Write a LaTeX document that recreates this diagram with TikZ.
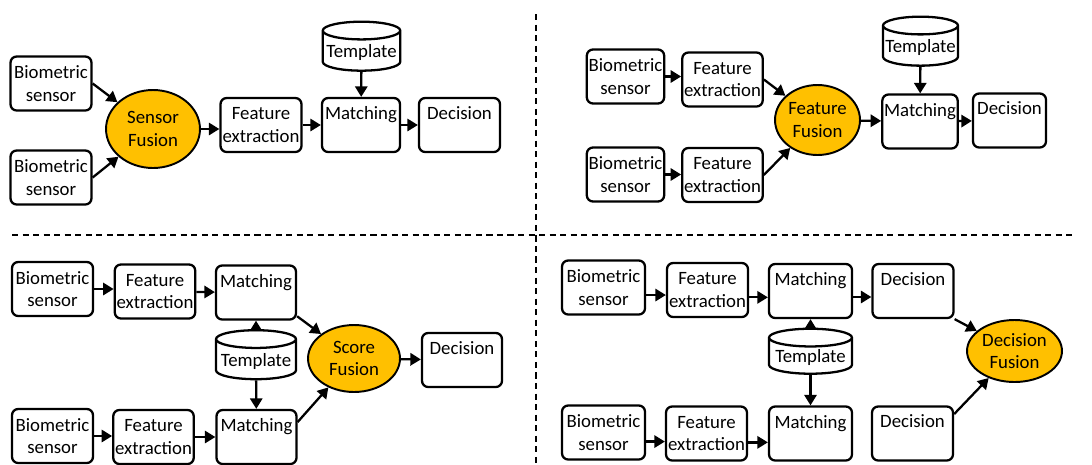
\documentclass[tikz,border=0pt]{standalone}
\usepackage{fontspec}
\setmainfont{Carlito}
\usetikzlibrary{arrows.meta,shapes.geometric}
\definecolor{fusegold}{HTML}{FFC000}
\begin{document}
\begin{tikzpicture}[x=0.02cm,y=-0.02cm,font=\fontsize{10.7}{12.8}\selectfont,
  box/.style={draw,line width=1.3pt,rounded corners=3.5pt,align=center,inner sep=1pt,minimum width=1.62cm,minimum height=1.08cm},
  fusion/.style={ellipse,draw,line width=1.1pt,fill=fusegold,align=center,inner sep=0pt},
  db/.style={cylinder,shape border rotate=90,aspect=0.24,draw,line width=1.3pt,inner sep=1pt,minimum width=1.55cm,minimum height=0.98cm},
  arr/.style={-{Triangle[length=6pt,width=7pt]},line width=1.3pt},
  sep/.style={line width=1pt,dash pattern=on 3.5pt off 2.5pt}]
\useasboundingbox (0,0) rectangle (1092,464);

\draw[sep] (536,14) -- (536,464);
\draw[sep] (12,235) -- (1073,235);

% sensor level
\node[box] (aS1) at (51,83.5) {Biometric\\sensor};
\node[box] (aS2) at (51,177.5) {Biometric\\sensor};
\node[fusion,minimum width=1.88cm,minimum height=1.56cm] (aF) at (153,129) {Sensor\\Fusion};
\node[box] (aFE) at (261,125) {Feature\\extraction};
\node[box,minimum width=1.56cm] (aM) at (361,125) {Matching\\[-3pt]\strut};
\node[db] (aT) at (361.5,52.5) {Template};
\node[box] (aD) at (459.5,125) {Decision\\[-3pt]\strut};
\draw[arr] (aS1.east) -- (aF);
\draw[arr] (aS2.east) -- (aF);
\draw[arr] (aF.east) -- (aF.east -| aFE.west);
\draw[arr] (aFE) -- (aM);
\draw[arr] (aM) -- (aD);
\draw[arr] (aT) -- (aM);

% feature level
\node[box,minimum width=1.5cm] (bS1) at (625.5,76.5) {Biometric\\sensor};
\node[box,minimum width=1.58cm] (bFE1) at (722.5,79.5) {Feature\\extraction};
\node[box,minimum width=1.5cm] (bS2) at (625.5,174.5) {Biometric\\sensor};
\node[box,minimum width=1.58cm] (bFE2) at (722.5,175) {Feature\\extraction};
\node[fusion,minimum width=1.7cm,minimum height=1.4cm] (bF) at (817.5,120) {Feature\\Fusion};
\node[box,minimum width=1.48cm] (bM) at (920,121.5) {Matching\\[-3pt]\strut};
\node[db,minimum width=1.5cm] (bT) at (920.5,47.5) {Template};
\node[box,minimum width=1.46cm] (bD) at (1009.5,120.5) {Decision\\[-3pt]\strut};
\draw[arr] (bS1.east) -- (bS1.east -| bFE1.west);
\draw[arr] (bFE1.east) -- (bF);
\draw[arr] (bS2.east) -- (bS2.east -| bFE2.west);
\draw[arr] (bFE2.east) -- (bF);
\draw[arr] (bF) -- (bM);
\draw[arr] (bM) -- (bD);
\draw[arr] (bT) -- (bM);

% score level
\node[box] (cS1) at (52.5,289) {Biometric\\sensor};
\node[box,minimum width=1.6cm] (cFE1) at (155,291.5) {Feature\\extraction};
\node[box,minimum width=1.6cm] (cM1) at (256,292.5) {Matching\\[-3pt]\strut};
\node[db,minimum width=1.6cm] (cT) at (256,361) {Template};
\node[box] (cS2) at (52.5,436) {Biometric\\sensor};
\node[box,minimum width=1.6cm] (cFE2) at (153.5,437) {Feature\\extraction};
\node[box,minimum width=1.6cm] (cM2) at (256.5,437) {Matching\\[-3pt]\strut};
\node[fusion,minimum width=1.84cm,minimum height=1.34cm] (cF) at (354,358.5) {Score\\Fusion};
\node[box,minimum width=1.6cm] (cD) at (462,360) {Decision\\[-3pt]\strut};
\draw[arr] (cS1.east) -- (cS1.east -| cFE1.west);
\draw[arr] (cFE1) -- (cM1);
\draw[arr] (cT) -- (cM1);
\draw[arr] (cT) -- (cM2);
\draw[arr] (cM1.-30) -- (cF);
\draw[arr] (cM2.20) -- (cF);
\draw[arr] (cF) -- (cD);
\draw[arr] (cS2.east) -- (cS2.east -| cFE2.west);
\draw[arr] (cFE2) -- (cM2);

% decision level
\node[box,minimum width=1.66cm] (dS1) at (603.5,287.5) {Biometric\\sensor};
\node[box] (dFE1) at (707.5,290) {Feature\\extraction};
\node[box,minimum width=1.66cm] (dM1) at (810.5,291) {Matching\\[-3pt]\strut};
\node[box] (dD1) at (913,291) {Decision\\[-3pt]\strut};
\node[db,minimum width=1.66cm,minimum height=0.9cm] (dT) at (810.5,357.5) {Template};
\node[box,minimum width=1.66cm] (dS2) at (603.5,432.5) {Biometric\\sensor};
\node[box] (dFE2) at (706.5,433.5) {Feature\\extraction};
\node[box,minimum width=1.66cm] (dM2) at (810.5,433.5) {Matching\\[-3pt]\strut};
\node[box] (dD2) at (912.5,433.5) {Decision\\[-3pt]\strut};
\node[fusion,minimum width=1.9cm,minimum height=1.24cm] (dF) at (1014.5,351) {Decision\\Fusion};
\draw[arr] (dS1.-10) -- (dS1.-10 -| dFE1.west);
\draw[arr] (dFE1.-10) -- (dFE1.-10 -| dM1.west);
\draw[arr] (dM1.-8) -- (dM1.-8 -| dD1.west);
\draw[arr] (dD1.south east) -- (dF);
\draw[arr] (dD2.25) -- (dF);
\draw[arr] (dT) -- (dM1);
\draw[arr] (dT) -- (dM2);
\draw[arr] (dS2.-12) -- (dS2.-12 -| dFE2.west);
\draw[arr] (dFE2.-12) -- (dFE2.-12 -| dM2.west);
\end{tikzpicture}
\end{document}
